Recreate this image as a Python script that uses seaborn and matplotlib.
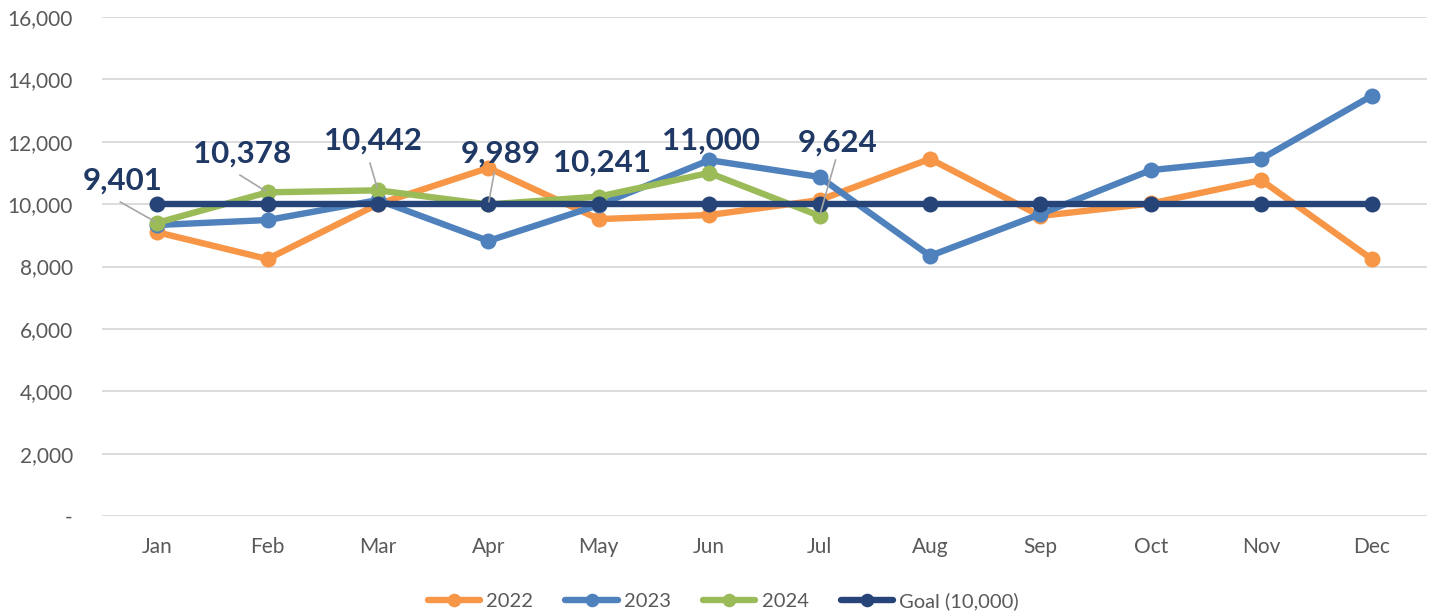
import pandas as pd
import matplotlib.pyplot as plt
import seaborn as sns
from matplotlib.ticker import FuncFormatter

# dados
months = ['Jan', 'Feb', 'Mar', 'Apr', 'May', 'Jun', 'Jul', 'Aug', 'Sep', 'Oct', 'Nov', 'Dec']
v2022 = [9100, 8240, 10000, 11160, 9520, 9650, 10130, 11450, 9620, 10020, 10770, 8240]
v2023 = [9330, 9490, 10130, 8820, 9970, 11410, 10870, 8340, 9680, 11090, 11450, 13470]
v2024 = [9401, 10378, 10442, 9989, 10241, 11000, 9624]
goal = [10000] * 12

series = ['2022', '2023', '2024', 'Goal (10,000)']
colors = ['#F79646', '#4F81BD', '#9BBB59', '#264478']

# posicao dos rotulos (offset em pontos, baseline do texto)
label_dx = [-25, -18.5, -3.6, 8.6, 2.2, 1.4, 13]
label_dy = [23.6, 21.1, 29, 29.9, 17.7, 16.6, 46]
# linhas de chamada (inicio em offset de pontos), None = sem linha
leader_start = [(-26.6, 15), (-20, 12.5), (-5.8, 19.7), (4.3, 23.4), None, None, (11.5, 40.3)]

rows = []
for name, vals in zip(series, [v2022, v2023, v2024, goal]):
    for i, v in enumerate(vals):
        rows.append({'idx': i, 'value': v, 'serie': name})
df = pd.DataFrame(rows)

sns.set_theme(style='white')
plt.rcParams['font.family'] = ['Lato', 'DejaVu Sans']

fig = plt.figure(figsize=(14.34, 6.13), dpi=100)
ax = fig.add_axes([0.0711, 0.1582, 0.9239, 0.8141])

sns.lineplot(data=df, x='idx', y='value', hue='serie', hue_order=series,
             palette=colors, marker='o', markersize=11.5, markeredgewidth=0,
             linewidth=4.6, ax=ax)

for i, v in enumerate(v2024):
    if leader_start[i] is not None:
        ax.annotate('', xy=(i, v), xytext=leader_start[i], textcoords='offset points',
                    arrowprops=dict(arrowstyle='-', color='#A6A6A6', lw=1.2,
                                    shrinkA=0, shrinkB=2),
                    zorder=5)
    ax.annotate(f'{v:,}', xy=(i, v), xytext=(label_dx[i], label_dy[i]),
                textcoords='offset points', ha='center', va='baseline',
                fontsize=22.5, fontweight='bold', color='#203864', zorder=5)

ax.set_xlim(-0.5, 11.5)
ax.set_ylim(0, 16000)
ax.set_yticks(range(0, 16001, 2000))
ax.yaxis.set_major_formatter(FuncFormatter(lambda y, p: '-' if y == 0 else f'{int(y):,}'))
ax.set_xticks(range(12))
ax.set_xticklabels(months)
ax.tick_params(axis='both', length=0, labelsize=15, colors='#595959')
ax.tick_params(axis='x', pad=15)
ax.tick_params(axis='y', pad=21)
ax.set_xlabel('')
ax.set_ylabel('')
ax.grid(axis='y', color='#D9D9D9', linewidth=1.3)
ax.set_axisbelow(True)
sns.despine(ax=ax, left=True, bottom=True)

sns.move_legend(ax, 'center', bbox_to_anchor=(0.469, -0.170), ncol=4,
                frameon=False, title=None, fontsize=14.5, handlelength=2.6,
                handletextpad=0.3, columnspacing=1.6, markerscale=0.85,
                labelcolor='#595959')

fig.savefig('out.png', dpi=100)
